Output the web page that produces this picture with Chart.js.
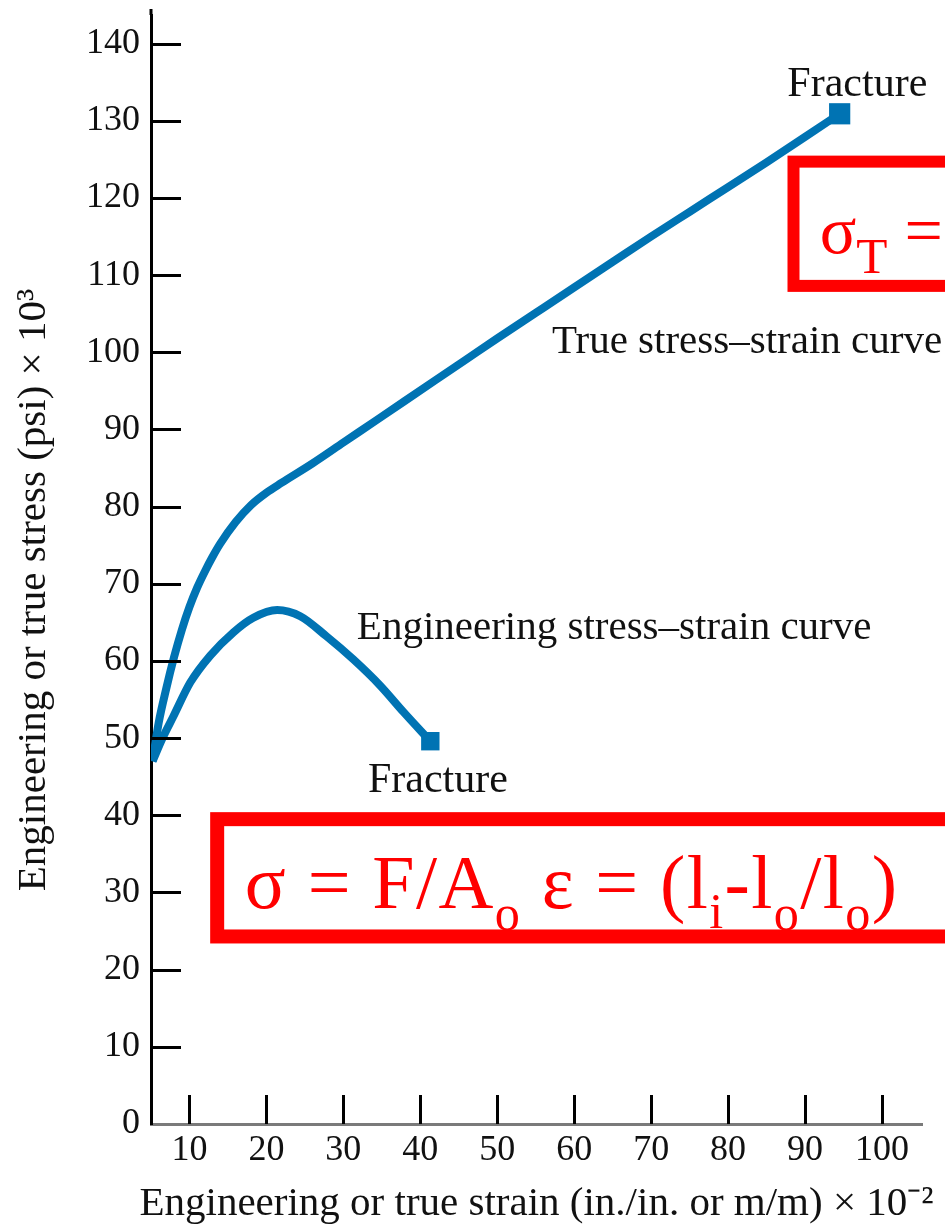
<!DOCTYPE html>
<html>
<head>
<meta charset="utf-8">
<title>Stress-strain curves</title>
<script src="https://cdn.jsdelivr.net/npm/chart.js@4.4.1/dist/chart.umd.min.js"></script>
<style>
  html, body { margin: 0; padding: 0; background: #fff; }
  #wrap { width: 945px; height: 1224px; }
</style>
</head>
<body>
<div id="wrap"><canvas id="stress-strain" width="945" height="1224"></canvas></div>
<script>
// strain (x 10^-2) and stress (psi x 10^3)
var trueStrain = [5.2, 6.0, 7.0, 8.0, 9.0, 10.0, 11.0, 12.0, 13.0, 14.0, 16.0, 18.0, 20.0, 22.0, 26.0, 30.0, 34.0, 38.0, 42.0, 46.0, 50.0, 55.0, 60.0, 65.0, 70.0, 75.0, 80.0, 85.0, 90.0, 94.5];
var trueStress = [47.0, 52.0, 56.5, 60.5, 64.0, 67.0, 69.5, 71.6, 73.5, 75.2, 78.0, 80.2, 81.8, 83.1, 85.6, 88.3, 91.0, 93.7, 96.4, 99.1, 101.8, 105.1, 108.4, 111.7, 115.0, 118.2, 121.4, 124.6, 127.9, 130.9];

var engStrain = [5.2, 6.5, 7.9, 10.1, 12.7, 15.7, 18.3, 21.4, 24.4, 27.8, 31.3, 34.8, 37.8, 41.3];
var engStress = [47.0, 50.0, 52.8, 57.2, 60.7, 63.7, 65.6, 66.6, 65.8, 63.2, 60.2, 56.8, 53.4, 49.6];

var xTicks = [10, 20, 30, 40, 50, 60, 70, 80, 90, 100];
var yTicks = [0, 10, 20, 30, 40, 50, 60, 70, 80, 90, 100, 110, 120, 130, 140];

var xTitle = 'Engineering or true strain (in./in. or m/m) \u00d7 10\u207b\u00b2';
var yTitle = 'Engineering or true stress (psi) \u00d7 10\u00b3';

var blue = '#0073b3';
var red = '#ff0000';
var serif = '"Liberation Serif", "Times New Roman", serif';

// notes placed in data units (strain, stress)
var notes = [
  { text: 'Fracture', x: 87.7, y: 133.2, size: 42 },
  { text: 'True stress\u2013strain curve', x: 57.1, y: 99.9, size: 41 },
  { text: 'Engineering stress\u2013strain curve', x: 31.75, y: 62.8, size: 41 },
  { text: 'Fracture', x: 33.2, y: 43.0, size: 42 }
];

var boxes = [
  { x1: 13.6, x2: 112, y1: 39.5, y2: 24.3, lw: 14 },
  { x1: 88.5, x2: 112, y1: 124.7, y2: 108.6, lw: 12 }
];

var formulas = [
  { x: 17.2, y: 28.0, size: 76, spacing: 1.4, segs: [
    { t: '\u03c3 = F/A' }, { t: 'o', sub: 0.66, dy: 0.29 },
    { t: ' \u03b5 = (l' }, { t: 'i', sub: 0.66, dy: 0.27 },
    { t: '-l' }, { t: 'o', sub: 0.66, dy: 0.29 },
    { t: '/l' }, { t: 'o', sub: 0.66, dy: 0.29 }, { t: ')' }
  ] },
  { x: 91.9, y: 112.9, size: 68, spacing: 0, segs: [
    { t: '\u03c3' }, { t: 'T', sub: 0.75, dy: 0.3 }, { t: ' =' }
  ] }
];

function toPoints(xs, ys) {
  return xs.map(function (x, i) { return { x: x, y: ys[i] }; });
}

function lastOnly(r) {
  return function (ctx) {
    return ctx.dataIndex === ctx.dataset.data.length - 1 ? r : 0;
  };
}

var extras = {
  id: 'extras',
  afterDatasetsDraw: function (chart) {
    var ctx = chart.ctx, xs = chart.scales.x, ys = chart.scales.y;
    var area = chart.chartArea;
    ctx.save();
    ctx.strokeStyle = '#000';
    ctx.lineWidth = 3;
    ctx.beginPath();
    yTicks.forEach(function (v) {
      if (v === 0) return;
      var py = Math.round(ys.getPixelForValue(v)) + 0.5;
      ctx.moveTo(area.left, py);
      ctx.lineTo(area.left + 30, py);
    });
    xTicks.forEach(function (v) {
      var px = Math.round(xs.getPixelForValue(v)) + 0.5;
      ctx.moveTo(px, area.bottom);
      ctx.lineTo(px, area.bottom - 29);
    });
    // axis line runs a little past the top of the plot
    ctx.moveTo(area.left, area.top);
    ctx.lineTo(area.left, area.top - 6);
    ctx.stroke();
    ctx.restore();
  },
  afterDraw: function (chart) {
    var ctx = chart.ctx, xs = chart.scales.x, ys = chart.scales.y;
    var area = chart.chartArea;
    ctx.save();
    ctx.textBaseline = 'alphabetic';
    ctx.fillStyle = '#111';

    // x axis title (drawn here so it is not squeezed to the plot width)
    ctx.textAlign = 'center';
    ctx.font = '41px ' + serif;
    ctx.fillText(xTitle, (area.left + area.right) / 2, area.bottom + 91);

    ctx.textAlign = 'left';
    notes.forEach(function (n) {
      ctx.font = n.size + 'px ' + serif;
      ctx.fillText(n.text, xs.getPixelForValue(n.x), ys.getPixelForValue(n.y));
    });

    ctx.strokeStyle = red;
    boxes.forEach(function (b) {
      var x1 = xs.getPixelForValue(b.x1), x2 = xs.getPixelForValue(b.x2);
      var y1 = ys.getPixelForValue(b.y1), y2 = ys.getPixelForValue(b.y2);
      ctx.lineWidth = b.lw;
      ctx.strokeRect(x1, y1, x2 - x1, y2 - y1);
    });

    ctx.fillStyle = red;
    formulas.forEach(function (f) {
      var cx = xs.getPixelForValue(f.x), by = ys.getPixelForValue(f.y);
      ctx.letterSpacing = f.spacing + 'px';
      f.segs.forEach(function (s) {
        var fs = s.sub ? f.size * s.sub : f.size;
        ctx.font = fs + 'px ' + serif;
        ctx.fillText(s.t, cx, by + (s.dy || 0) * f.size);
        cx += ctx.measureText(s.t).width;
      });
    });
    ctx.restore();
  }
};

var canvas = document.getElementById('stress-strain');

var stressChart = new Chart(canvas, {
  type: 'line',
  data: {
    datasets: [
      {
        label: 'True stress-strain curve',
        data: toPoints(trueStrain, trueStress),
        borderColor: blue,
        backgroundColor: blue,
        borderWidth: 8,
        cubicInterpolationMode: 'monotone',
        pointStyle: 'rect',
        pointRadius: lastOnly(15),
        pointBorderWidth: 0,
        pointHoverRadius: 0
      },
      {
        label: 'Engineering stress-strain curve',
        data: toPoints(engStrain, engStress),
        borderColor: blue,
        backgroundColor: blue,
        borderWidth: 8,
        cubicInterpolationMode: 'monotone',
        pointStyle: 'rect',
        pointRadius: lastOnly(13),
        pointBorderWidth: 0,
        pointHoverRadius: 0
      }
    ]
  },
  options: {
    responsive: false,
    animation: false,
    devicePixelRatio: 1,
    layout: { padding: { left: 0, right: 23, top: 9, bottom: 0 } },
    plugins: {
      legend: { display: false },
      tooltip: { enabled: false }
    },
    scales: {
      x: {
        type: 'linear',
        min: 5,
        max: 105.2,
        afterBuildTicks: function (s) { s.ticks = xTicks.map(function (v) { return { value: v }; }); },
        afterFit: function (s) { s.height = 100; s.paddingLeft = 0; s.paddingRight = 0; },
        grid: { drawOnChartArea: false, drawTicks: false },
        border: { color: '#7a7a7a', width: 3 },
        ticks: { color: '#111', padding: 5, font: { family: serif, size: 36 } }
      },
      y: {
        type: 'linear',
        min: 0,
        max: 143.7,
        afterBuildTicks: function (s) { s.ticks = yTicks.map(function (v) { return { value: v }; }); },
        afterFit: function (s) { s.width = 151; s.paddingTop = 0; s.paddingBottom = 0; },
        grid: { drawOnChartArea: false, drawTicks: false },
        border: { color: '#000', width: 3 },
        ticks: { color: '#111', padding: 11, font: { family: serif, size: 36 } },
        title: {
          display: true,
          text: yTitle + '    ',
          color: '#111',
          padding: { top: 14, bottom: 0 },
          font: { family: serif, size: 41, lineHeight: 1 }
        }
      }
    }
  },
  plugins: [extras]
});
</script>
</body>
</html>
